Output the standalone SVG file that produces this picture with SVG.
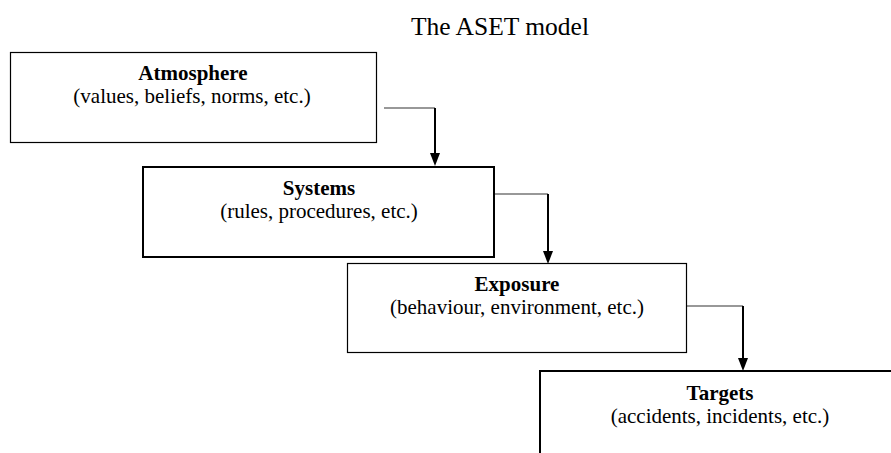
<svg xmlns="http://www.w3.org/2000/svg" width="891" height="453" viewBox="0 0 891 453">
<style>
text{font-family:"Liberation Serif","Times New Roman",serif;fill:#000;text-anchor:middle}
.t{font-size:21px}
.b{font-weight:bold}
.box{fill:#fff;stroke:#000}
.h{stroke:#333;stroke-width:1.2;fill:none}
.v{stroke:#000;stroke-width:2;fill:none}
</style>
<rect width="891" height="453" fill="#fff"/>
<text x="500" y="35" style="font-size:25.5px">The ASET model</text>
<g id="connectors">
<path class="h" d="M384,108 H435"/>
<path class="v" d="M435,108 V154"/>
<path d="M430,153 L440,153 L435,166 Z" fill="#000"/>
<path class="h" d="M494,194 H548"/>
<path class="v" d="M548,194 V252"/>
<path d="M543,251 L553,251 L548,264 Z" fill="#000"/>
<path class="h" d="M686,306 H743"/>
<path class="v" d="M743,306 V359"/>
<path d="M738,358 L748,358 L743,371 Z" fill="#000"/>
</g>
<g id="atmosphere">
<rect class="box" x="10.5" y="52.5" width="366" height="90" stroke-width="1.2"/>
<text class="t b" x="193" y="80">Atmosphere</text>
<text class="t" x="192" y="103">(values, beliefs, norms, etc.)</text>
</g>
<g id="systems">
<rect class="box" x="143" y="167" width="351" height="90" stroke-width="2"/>
<text class="t b" x="319" y="195">Systems</text>
<text class="t" x="319" y="218">(rules, procedures, etc.)</text>
</g>
<g id="exposure">
<rect class="box" x="347.5" y="263.5" width="339" height="89" stroke-width="1.2"/>
<text class="t b" x="517" y="291">Exposure</text>
<text class="t" x="517" y="314">(behaviour, environment, etc.)</text>
</g>
<g id="targets">
<path d="M540,460 V371 H895" fill="#fff" stroke="#000" stroke-width="2"/>
<text class="t b" x="720" y="400">Targets</text>
<text class="t" x="720" y="423">(accidents, incidents, etc.)</text>
</g>
</svg>
